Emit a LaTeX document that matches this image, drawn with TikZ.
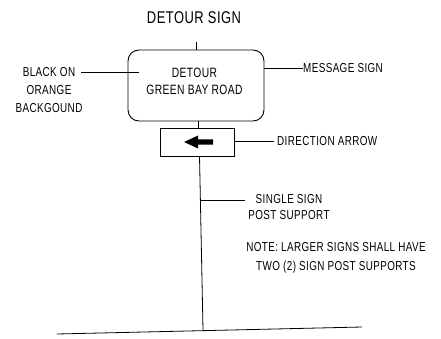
\documentclass[tikz,border=0pt]{standalone}
\usepackage{fontspec}
\setmainfont[FakeStretch=0.76,LetterSpace=3]{Liberation Sans}
\begin{document}
\begin{tikzpicture}[x=1pt,y=-1pt,
  lbl/.style={inner sep=0pt,align=center},
  ln/.style={line width=0.8pt},
  signbox/.style={draw,line width=0.9pt,rounded corners=11pt,minimum width=136pt,minimum height=71pt,inner sep=0pt},
  arrowbox/.style={draw,line width=0.9pt,minimum width=74pt,minimum height=28pt,inner sep=0pt}]
\useasboundingbox (0,0) rectangle (441,339);
% title
\node[lbl,font=\fontsize{17}{20}\selectfont] (title) at (194,18) {DETOUR SIGN};
% sign
\node[signbox] (sign) at (196,85.5) {};
\node[lbl,font=\fontsize{13.5}{17}\selectfont] (msg) at (194.5,81.5) {DETOUR\\GREEN BAY ROAD};
\coordinate (topT) at (196,42);
\draw[ln] (topT) -- (sign.north);
% arrow box
\node[arrowbox] (abox) at (197,142) {};
\coordinate (postA) at (198,121);
\draw[ln] (postA) -- (postA |- abox.north);
\fill (184,142) -- (198,135.5) -- (198,139.3) -- (213,139.3) -- (213,144.7) -- (198,144.7) -- (198,148.5) -- cycle;
% post
\coordinate (postTop) at (199.5,156);
\coordinate (postBot) at (203,330);
\draw[ln] (postTop) -- (postBot);
% ground
\coordinate (gL) at (57,334);
\coordinate (gR) at (362,327);
\draw[ln] (gL) -- (gR);
% left label
\node[lbl,font=\fontsize{13}{18}\selectfont] (black) at (49,90) {BLACK ON\\ORANGE\\BACKGOUND};
\coordinate (blackStart) at (81,72);
\coordinate (blackEnd) at (139,72);
\draw[ln] (blackStart) -- (blackEnd);
% message sign label
\node[lbl,anchor=west,font=\fontsize{13}{16}\selectfont] (ms) at (303,68) {MESSAGE SIGN};
\draw[ln] (ms.west) -- (sign.east |- ms.west);
% direction arrow label
\node[lbl,anchor=west,font=\fontsize{13}{16}\selectfont] (da) at (277,141) {DIRECTION ARROW};
\coordinate (daL) at (274,141);
\draw[ln] (daL) -- (abox.east |- daL);
% single sign
\node[lbl,font=\fontsize{13}{16}\selectfont] (ss) at (289,207) {SINGLE SIGN\\POST SUPPORT};
\coordinate (ssL) at (245,200);
\coordinate (ssP) at (201.4,200);
\draw[ln] (ssL) -- (ssP);
% note
\node[lbl,font=\fontsize{13}{19}\selectfont] (note) at (336,258) {NOTE: LARGER SIGNS SHALL HAVE\\TWO (2) SIGN POST SUPPORTS};
\end{tikzpicture}
\end{document}
